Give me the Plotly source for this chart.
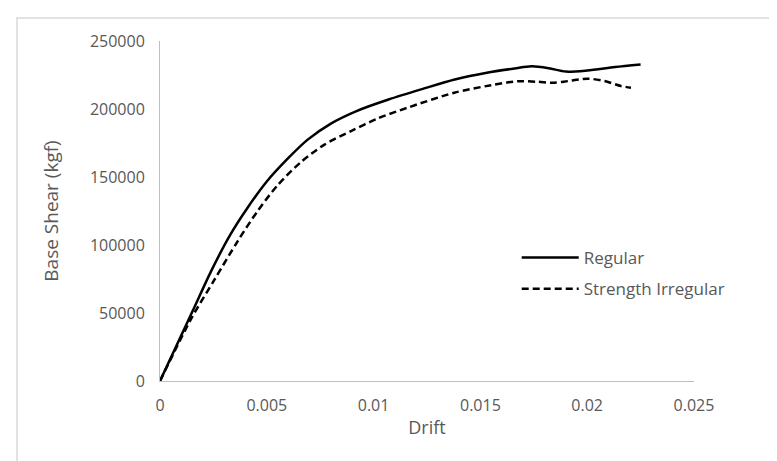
import plotly.graph_objects as go

# Data
regular_drift = [0, 0.0015, 0.0024, 0.0033, 0.0041, 0.0050, 0.0060, 0.0069, 0.0080, 0.0092,
                 0.0107, 0.0123, 0.0138, 0.0153, 0.0166, 0.0174, 0.0182, 0.0190, 0.0200, 0.0213, 0.0225]
regular_shear = [0, 50500, 81000, 107800, 127400, 146700, 163800, 177300, 189300, 198500,
                 207000, 214800, 221700, 226700, 229800, 231400, 230000, 227500, 228300, 230800, 232700]

irregular_drift = [0, 0.00145, 0.00255, 0.00364, 0.00457, 0.00551, 0.0066, 0.0077, 0.00894, 0.01019,
                   0.0116, 0.01378, 0.0155, 0.01675, 0.01768, 0.01846, 0.01909, 0.02002, 0.0208,
                   0.02158, 0.02205]
irregular_shear = [0, 45500, 74500, 102900, 125000, 144000, 161000, 173800, 183800, 193000,
                   201000, 212000, 217500, 220400, 220000, 219300, 220500, 222300, 220600,
                   216900, 215700]

series_names = ["Regular", "Strength Irregular"]
x_ticks = [0, 0.005, 0.01, 0.015, 0.02, 0.025]
x_tick_labels = ["0", "0.005", "0.01", "0.015", "0.02", "0.025"]
y_ticks = [0, 50000, 100000, 150000, 200000, 250000]
y_tick_labels = ["0", "50000", "100000", "150000", "200000", "250000"]

FONT = "Open Sans"
TXT = "#595959"
AX = "#BFBFBF"

fig = go.Figure()
fig.add_trace(go.Scatter(
    x=regular_drift, y=regular_shear, mode="lines", name=series_names[0],
    line=dict(color="black", width=2.5, shape="spline", smoothing=0.8),
    legendgroup="a",
))
fig.add_trace(go.Scatter(
    x=irregular_drift, y=irregular_shear, mode="lines", name=series_names[1],
    line=dict(color="black", width=2.5, dash="7px,4px", shape="spline", smoothing=0.8),
    legendgroup="b",
))

fig.update_layout(
    width=777, height=461,
    margin=dict(l=152, r=91, t=33, b=88, autoexpand=False),
    paper_bgcolor="white", plot_bgcolor="white",
    font=dict(family=FONT, size=16, color=TXT),
    showlegend=True,
    legend=dict(
        x=0.668, y=0.316, xanchor="left", yanchor="middle",
        bgcolor="rgba(0,0,0,0)", borderwidth=0,
        font=dict(family=FONT, size=17, color=TXT),
        tracegroupgap=6, itemwidth=57,
    ),
    xaxis=dict(
        range=[0, 0.025], tickvals=x_ticks, ticktext=x_tick_labels,
        showgrid=False, zeroline=False, showline=True, linecolor=AX, linewidth=1,
        ticks="", ticklabelstandoff=10, automargin=False,
        title=dict(text="Drift", standoff=6, font=dict(family=FONT, size=18, color=TXT)),
        tickfont=dict(family=FONT, size=16, color=TXT),
    ),
    yaxis=dict(
        range=[0, 250000], tickvals=y_ticks, ticktext=y_tick_labels,
        showgrid=False, zeroline=False, showline=True, linecolor=AX, linewidth=1,
        ticks="", ticklabelstandoff=11, automargin=False,
        title=dict(text="Base Shear (kgf)", standoff=26, font=dict(family=FONT, size=19, color=TXT)),
        tickfont=dict(family=FONT, size=16, color=TXT),
    ),
    shapes=[dict(
        type="rect", xref="paper", yref="paper",
        x0=(9 - 152) / 534, x1=1.5, y0=-1.0, y1=1 + (33 - 10) / 340,
        line=dict(color="#D9D9D9", width=1.5), fillcolor="rgba(0,0,0,0)", layer="below",
    )],
)

fig.write_html("out.html")
